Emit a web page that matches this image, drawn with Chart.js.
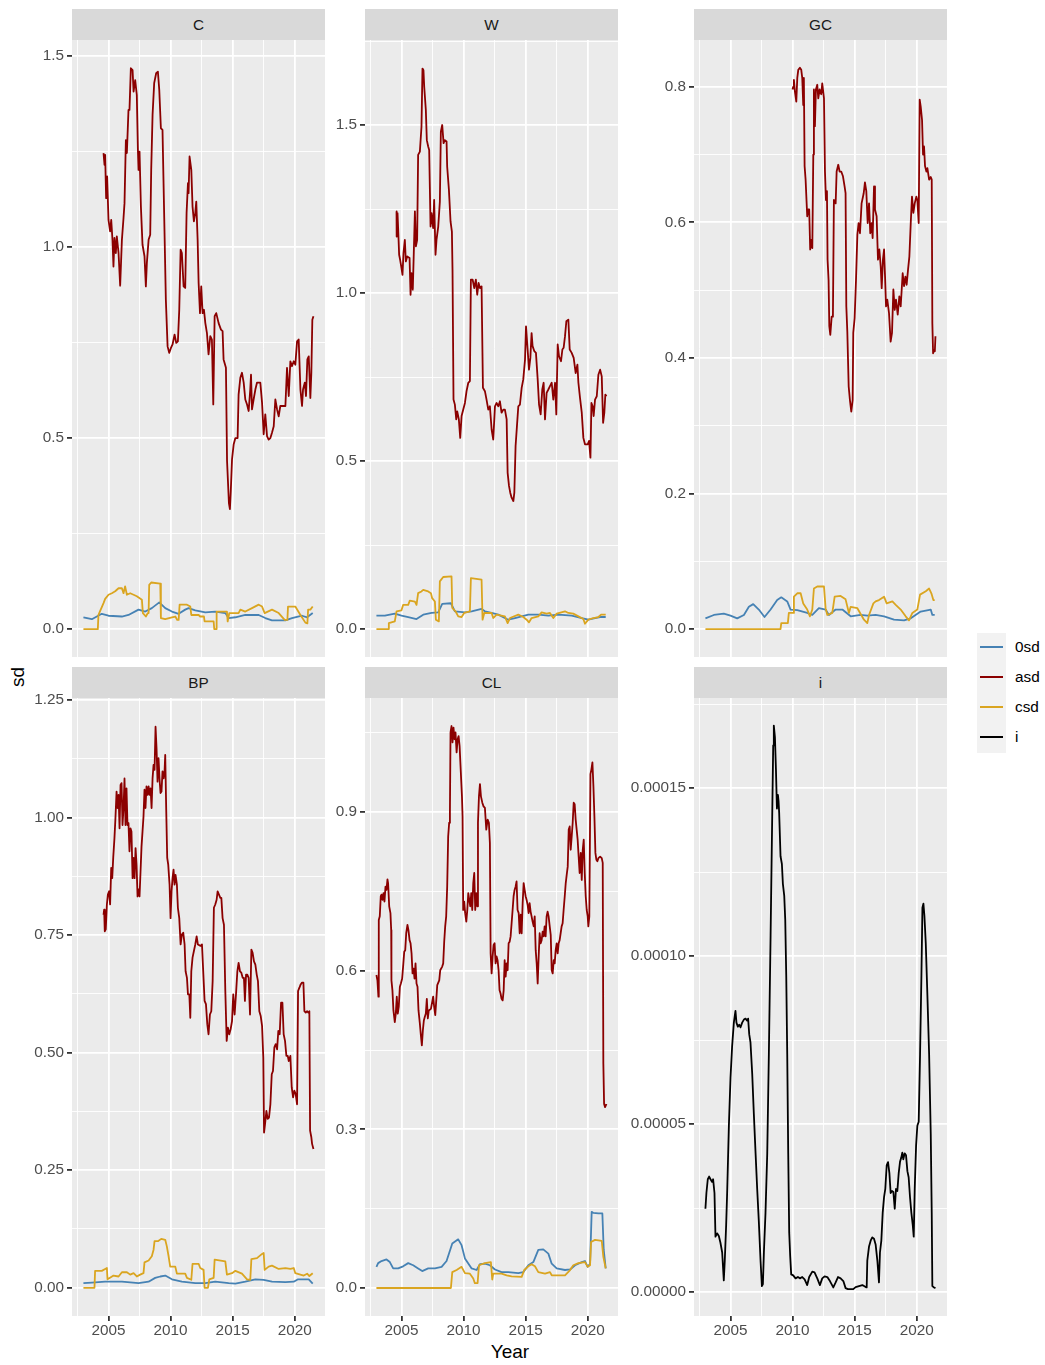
<!DOCTYPE html>
<html><head><meta charset="utf-8">
<script src="https://cdn.jsdelivr.net/npm/chart.js@4"></script>
<style>
body{margin:0;background:#fff;width:1045px;height:1365px;position:relative;overflow:hidden;font-family:"Liberation Sans",Arial,sans-serif;}
.strip{position:absolute;background:#D9D9D9;color:#1A1A1A;font-size:15.3px;text-align:center;line-height:31px;height:31px;width:253px;}
canvas{position:absolute;}
.lab{position:absolute;font-size:15.3px;color:#000;height:20px;line-height:20px;}
.key{position:absolute;left:980px;width:23px;height:1.8px;}
</style></head><body>
<div class="strip" style="left:72px;top:9px">C</div>
<div class="strip" style="left:365px;top:9px">W</div>
<div class="strip" style="left:694px;top:9px">GC</div>
<div class="strip" style="left:72px;top:667px">BP</div>
<div class="strip" style="left:365px;top:667px">CL</div>
<div class="strip" style="left:694px;top:667px">i</div>
<div style="position:absolute;left:0;top:667px;width:36px;height:20px;line-height:20px;text-align:center;transform:rotate(-90deg);transform-origin:18px 10px;font-size:19px;color:#000">sd</div>
<div style="position:absolute;left:460px;top:1341px;width:100px;text-align:center;font-size:19px;color:#000;line-height:22px">Year</div>
<div style="position:absolute;left:977px;top:633px;width:29px;height:120px;background:#F2F2F2"></div>
<div class="key" style="top:646px;background:#4682B4"></div>
<div class="key" style="top:676px;background:#8B0000"></div>
<div class="key" style="top:706px;background:#DAA520"></div>
<div class="key" style="top:736px;background:#000000"></div>
<div class="lab" style="left:1015px;top:637px">0sd</div>
<div class="lab" style="left:1015px;top:667px">asd</div>
<div class="lab" style="left:1015px;top:697px">csd</div>
<div class="lab" style="left:1015px;top:727px">i</div>
<script>
// ---------- tick definitions ----------
const X_MAJOR = [2005, 2010, 2015, 2020];
const X_LABELS = ['2005', '2010', '2015', '2020'];
const X_MINOR = [2002.5, 2007.5, 2012.5, 2017.5];

const C_MAJOR = [0, 0.5, 1.0, 1.5];
const C_LABELS = ['0.0', '0.5', '1.0', '1.5'];
const C_MINOR = [0.25, 0.75, 1.25];

const W_MAJOR = [0, 0.5, 1.0, 1.5];
const W_LABELS = ['0.0', '0.5', '1.0', '1.5'];
const W_MINOR = [0.25, 0.75, 1.25, 1.75];

const GC_MAJOR = [0, 0.2, 0.4, 0.6, 0.8];
const GC_LABELS = ['0.0', '0.2', '0.4', '0.6', '0.8'];
const GC_MINOR = [0.1, 0.3, 0.5, 0.7];

const BP_MAJOR = [0, 0.25, 0.5, 0.75, 1.0, 1.25];
const BP_LABELS = ['0.00', '0.25', '0.50', '0.75', '1.00', '1.25'];
const BP_MINOR = [0.125, 0.375, 0.625, 0.875, 1.125];

const CL_MAJOR = [0, 0.3, 0.6, 0.9];
const CL_LABELS = ['0.0', '0.3', '0.6', '0.9'];
const CL_MINOR = [0.15, 0.45, 0.75, 1.05];

const I_MAJOR = [0, 0.00005, 0.0001, 0.00015];
const I_LABELS = ['0.00000', '0.00005', '0.00010', '0.00015'];
const I_MINOR = [0.000025, 0.000075, 0.000125, 0.000175];

// ---------- series: [year, value] ----------
const C_asd = [[2004.60,1.246],[2004.68,1.215],[2004.73,1.241],[2004.81,1.128],[2004.89,1.185],[2005.00,1.071],[2005.13,1.041],[2005.22,1.071],[2005.32,1.019],[2005.40,0.949],[2005.48,1.024],[2005.59,0.984],[2005.67,1.028],[2005.81,0.984],[2005.94,0.899],[2006.08,1.019],[2006.21,1.076],[2006.29,1.115],[2006.40,1.280],[2006.48,1.246],[2006.61,1.359],[2006.69,1.359],[2006.80,1.468],[2006.94,1.463],[2007.02,1.407],[2007.15,1.437],[2007.28,1.398],[2007.37,1.254],[2007.42,1.202],[2007.50,1.250],[2007.61,1.106],[2007.74,1.006],[2007.90,0.976],[2008.01,0.897],[2008.09,0.958],[2008.23,1.019],[2008.36,1.032],[2008.44,1.202],[2008.55,1.346],[2008.68,1.429],[2008.84,1.455],[2008.98,1.459],[2009.09,1.411],[2009.22,1.311],[2009.35,1.307],[2009.49,1.076],[2009.62,0.862],[2009.76,0.740],[2009.89,0.723],[2010.03,0.736],[2010.16,0.745],[2010.32,0.771],[2010.46,0.749],[2010.59,0.753],[2010.70,0.836],[2010.81,0.993],[2010.91,0.984],[2011.05,0.897],[2011.18,0.893],[2011.29,1.089],[2011.40,1.167],[2011.45,1.141],[2011.53,1.237],[2011.67,1.202],[2011.77,1.106],[2011.88,1.067],[2011.99,1.089],[2012.07,1.119],[2012.18,1.019],[2012.26,0.906],[2012.37,0.827],[2012.47,0.897],[2012.58,0.827],[2012.69,0.836],[2012.80,0.801],[2012.93,0.775],[2013.06,0.719],[2013.20,0.767],[2013.33,0.758],[2013.44,0.588],[2013.55,0.819],[2013.68,0.827],[2013.87,0.801],[2014.06,0.784],[2014.19,0.780],[2014.27,0.706],[2014.46,0.684],[2014.55,0.440],[2014.70,0.330],[2014.78,0.314],[2014.85,0.360],[2014.95,0.444],[2015.08,0.483],[2015.22,0.500],[2015.40,0.500],[2015.48,0.614],[2015.62,0.658],[2015.75,0.671],[2015.89,0.645],[2016.02,0.601],[2016.16,0.588],[2016.29,0.571],[2016.42,0.627],[2016.48,0.666],[2016.56,0.575],[2016.69,0.601],[2016.83,0.627],[2016.96,0.645],[2017.23,0.645],[2017.37,0.592],[2017.50,0.510],[2017.63,0.562],[2017.77,0.505],[2017.90,0.496],[2018.04,0.500],[2018.17,0.514],[2018.31,0.531],[2018.44,0.601],[2018.58,0.575],[2018.71,0.557],[2018.84,0.584],[2018.98,0.584],[2019.25,0.584],[2019.38,0.684],[2019.52,0.610],[2019.65,0.701],[2019.78,0.688],[2019.92,0.701],[2020.05,0.692],[2020.19,0.753],[2020.32,0.758],[2020.46,0.627],[2020.59,0.584],[2020.67,0.627],[2020.81,0.645],[2020.91,0.610],[2021.02,0.706],[2021.13,0.714],[2021.26,0.605],[2021.34,0.671],[2021.42,0.810],[2021.51,0.819]];
const C_0sd = [[2002.98,0.031],[2003.66,0.026],[2004.46,0.040],[2005.00,0.035],[2006.08,0.033],[2006.61,0.037],[2007.42,0.051],[2007.96,0.046],[2008.49,0.055],[2009.09,0.070],[2009.57,0.055],[2010.11,0.046],[2010.65,0.040],[2011.18,0.051],[2011.45,0.055],[2011.99,0.049],[2012.80,0.044],[2013.60,0.046],[2014.41,0.042],[2014.68,0.029],[2015.22,0.031],[2016.02,0.037],[2017.10,0.037],[2017.63,0.029],[2018.17,0.023],[2019.25,0.023],[2019.78,0.029],[2020.59,0.035],[2021.00,0.031],[2021.45,0.042]];
const C_csd = [[2002.98,0],[2004.14,0],[2004.19,0.0375],[2004.60,0.068],[2004.73,0.079],[2005.00,0.090],[2005.27,0.094],[2005.54,0.099],[2005.81,0.107],[2006.08,0.107],[2006.21,0.094],[2006.34,0.112],[2006.48,0.090],[2006.75,0.094],[2007.02,0.090],[2007.28,0.086],[2007.69,0.077],[2007.77,0.042],[2008.01,0.033],[2008.17,0.042],[2008.23,0.042],[2008.28,0.116],[2008.44,0.122],[2009.17,0.119],[2009.22,0.029],[2009.57,0.026],[2010.11,0.031],[2010.38,0.033],[2010.54,0.024],[2010.65,0.024],[2010.73,0.064],[2011.32,0.064],[2011.59,0.059],[2011.67,0.037],[2012.26,0.037],[2012.39,0.033],[2012.69,0.033],[2012.74,0.020],[2013.47,0.020],[2013.52,0.0],[2013.66,0.0],[2013.71,0.046],[2014.54,0.046],[2014.60,0.020],[2014.73,0.042],[2015.48,0.042],[2015.62,0.051],[2016.02,0.046],[2016.56,0.055],[2017.10,0.064],[2017.37,0.059],[2017.58,0.042],[2018.17,0.051],[2018.71,0.042],[2019.19,0.024],[2019.41,0.024],[2019.46,0.059],[2020.05,0.059],[2020.46,0.037],[2020.86,0.017],[2021.02,0.015],[2021.08,0.051],[2021.26,0.051],[2021.45,0.059]];

const W_asd = [[2004.60,1.243],[2004.61,1.168],[2004.68,1.238],[2004.73,1.193],[2004.81,1.114],[2004.89,1.099],[2005.00,1.074],[2005.08,1.054],[2005.16,1.119],[2005.27,1.158],[2005.35,1.094],[2005.46,1.109],[2005.65,1.104],[2005.73,0.995],[2005.81,1.059],[2005.91,1.010],[2005.99,1.119],[2006.08,1.243],[2006.16,1.139],[2006.26,1.158],[2006.34,1.411],[2006.48,1.421],[2006.61,1.495],[2006.69,1.668],[2006.77,1.663],[2006.83,1.614],[2006.96,1.545],[2007.04,1.455],[2007.15,1.436],[2007.23,1.426],[2007.34,1.198],[2007.42,1.238],[2007.55,1.193],[2007.63,1.277],[2007.74,1.114],[2007.82,1.158],[2007.96,1.198],[2008.09,1.272],[2008.17,1.480],[2008.28,1.500],[2008.39,1.446],[2008.49,1.455],[2008.63,1.451],[2008.68,1.376],[2008.82,1.307],[2008.95,1.213],[2009.06,1.183],[2009.11,1.069],[2009.19,0.683],[2009.30,0.668],[2009.41,0.624],[2009.49,0.648],[2009.62,0.624],[2009.73,0.569],[2009.84,0.634],[2009.97,0.653],[2010.11,0.673],[2010.24,0.708],[2010.38,0.733],[2010.51,0.738],[2010.59,1.040],[2010.73,1.040],[2010.86,1.015],[2010.99,1.040],[2011.10,0.995],[2011.21,1.030],[2011.32,1.015],[2011.45,1.020],[2011.56,0.718],[2011.72,0.708],[2011.85,0.683],[2011.99,0.653],[2012.12,0.663],[2012.26,0.594],[2012.39,0.564],[2012.53,0.663],[2012.66,0.673],[2012.80,0.663],[2012.93,0.678],[2013.06,0.644],[2013.20,0.653],[2013.33,0.653],[2013.47,0.624],[2013.55,0.465],[2013.66,0.426],[2013.76,0.406],[2013.87,0.391],[2014.01,0.381],[2014.09,0.406],[2014.19,0.545],[2014.30,0.604],[2014.41,0.663],[2014.54,0.668],[2014.68,0.718],[2014.81,0.743],[2014.95,0.802],[2015.03,0.901],[2015.16,0.832],[2015.27,0.772],[2015.38,0.807],[2015.48,0.881],[2015.56,0.842],[2015.70,0.827],[2015.83,0.822],[2015.97,0.743],[2016.08,0.668],[2016.21,0.639],[2016.34,0.713],[2016.45,0.733],[2016.56,0.624],[2016.69,0.703],[2016.83,0.713],[2016.96,0.723],[2017.10,0.733],[2017.23,0.683],[2017.37,0.733],[2017.47,0.639],[2017.58,0.847],[2017.69,0.812],[2017.85,0.797],[2017.96,0.832],[2018.06,0.837],[2018.17,0.871],[2018.28,0.916],[2018.44,0.921],[2018.55,0.832],[2018.71,0.822],[2018.87,0.807],[2019.03,0.762],[2019.17,0.787],[2019.25,0.733],[2019.38,0.688],[2019.52,0.644],[2019.65,0.569],[2019.78,0.550],[2020.00,0.550],[2020.11,0.560],[2020.22,0.510],[2020.30,0.673],[2020.40,0.663],[2020.48,0.634],[2020.59,0.683],[2020.73,0.693],[2020.86,0.757],[2021.00,0.772],[2021.13,0.752],[2021.24,0.614],[2021.34,0.644],[2021.42,0.698],[2021.51,0.693]];
const W_0sd = [[2002.98,0.040],[2003.66,0.040],[2004.46,0.046],[2005.00,0.040],[2005.54,0.036],[2006.21,0.030],[2006.75,0.043],[2007.42,0.048],[2007.96,0.050],[2008.28,0.075],[2008.98,0.077],[2009.30,0.053],[2010.11,0.050],[2010.65,0.053],[2011.45,0.060],[2011.72,0.053],[2012.26,0.048],[2012.80,0.043],[2013.60,0.028],[2014.14,0.033],[2014.68,0.038],[2015.22,0.043],[2016.02,0.043],[2016.83,0.040],[2017.63,0.043],[2018.71,0.040],[2019.52,0.033],[2020.05,0.028],[2020.59,0.033],[2021.00,0.036],[2021.45,0.036]];
const W_csd = [[2002.98,0],[2003.92,0],[2003.98,0.018],[2004.46,0.023],[2004.60,0.053],[2005.00,0.056],[2005.13,0.072],[2005.54,0.072],[2005.67,0.085],[2006.08,0.082],[2006.21,0.072],[2006.34,0.107],[2006.61,0.112],[2006.75,0.117],[2007.15,0.112],[2007.37,0.107],[2007.47,0.092],[2007.69,0.082],[2007.77,0.028],[2008.01,0.023],[2008.09,0.142],[2008.36,0.155],[2009.03,0.157],[2009.09,0.063],[2009.35,0.053],[2009.57,0.038],[2009.84,0.036],[2010.05,0.048],[2010.51,0.053],[2010.59,0.152],[2011.45,0.147],[2011.53,0.028],[2011.67,0.048],[2012.26,0.048],[2012.39,0.033],[2012.66,0.043],[2013.33,0.038],[2013.55,0.018],[2013.74,0.033],[2014.41,0.043],[2014.81,0.036],[2015.08,0.028],[2015.27,0.020],[2015.48,0.033],[2016.02,0.038],[2016.29,0.050],[2016.69,0.046],[2016.96,0.048],[2017.23,0.033],[2017.50,0.046],[2018.17,0.053],[2018.44,0.048],[2018.84,0.046],[2019.25,0.038],[2019.65,0.030],[2019.78,0.016],[2020.05,0.028],[2020.46,0.033],[2020.86,0.036],[2021.08,0.043],[2021.45,0.043]];

const GC_asd = [[2010.00,0.796],[2010.05,0.800],[2010.11,0.810],[2010.19,0.793],[2010.30,0.778],[2010.38,0.813],[2010.46,0.825],[2010.59,0.828],[2010.70,0.825],[2010.78,0.813],[2010.86,0.773],[2010.91,0.813],[2010.97,0.683],[2011.05,0.663],[2011.18,0.609],[2011.26,0.619],[2011.34,0.619],[2011.42,0.560],[2011.51,0.574],[2011.59,0.562],[2011.67,0.700],[2011.72,0.796],[2011.80,0.742],[2011.88,0.796],[2011.99,0.803],[2012.07,0.783],[2012.18,0.796],[2012.31,0.789],[2012.39,0.805],[2012.53,0.783],[2012.61,0.675],[2012.69,0.633],[2012.77,0.646],[2012.82,0.545],[2012.90,0.515],[2012.96,0.447],[2013.04,0.434],[2013.15,0.461],[2013.25,0.461],[2013.33,0.633],[2013.47,0.628],[2013.55,0.675],[2013.68,0.685],[2013.79,0.675],[2013.92,0.675],[2014.06,0.668],[2014.19,0.653],[2014.27,0.643],[2014.33,0.476],[2014.41,0.439],[2014.52,0.358],[2014.62,0.338],[2014.73,0.321],[2014.84,0.338],[2014.89,0.437],[2015.00,0.459],[2015.11,0.515],[2015.22,0.582],[2015.32,0.599],[2015.43,0.584],[2015.56,0.628],[2015.73,0.643],[2015.83,0.659],[2015.94,0.646],[2016.05,0.599],[2016.16,0.628],[2016.26,0.584],[2016.37,0.599],[2016.45,0.577],[2016.56,0.653],[2016.64,0.619],[2016.77,0.609],[2016.88,0.545],[2016.99,0.560],[2017.10,0.535],[2017.18,0.503],[2017.28,0.545],[2017.37,0.560],[2017.45,0.520],[2017.53,0.476],[2017.63,0.486],[2017.77,0.466],[2017.90,0.424],[2018.01,0.437],[2018.12,0.501],[2018.23,0.471],[2018.33,0.486],[2018.47,0.464],[2018.60,0.491],[2018.71,0.476],[2018.87,0.525],[2018.98,0.506],[2019.09,0.520],[2019.19,0.508],[2019.30,0.530],[2019.41,0.550],[2019.52,0.599],[2019.62,0.638],[2019.73,0.614],[2019.84,0.628],[2019.97,0.638],[2020.05,0.633],[2020.16,0.599],[2020.24,0.781],[2020.32,0.771],[2020.43,0.751],[2020.51,0.700],[2020.59,0.712],[2020.67,0.683],[2020.78,0.675],[2020.86,0.680],[2021.00,0.663],[2021.13,0.667],[2021.21,0.663],[2021.26,0.451],[2021.32,0.407],[2021.40,0.412],[2021.46,0.410],[2021.51,0.432]];
const GC_0sd = [[2002.98,0.016],[2003.66,0.021],[2004.46,0.023],[2005.00,0.020],[2005.54,0.016],[2006.08,0.021],[2006.48,0.033],[2006.83,0.037],[2007.28,0.029],[2007.74,0.018],[2008.23,0.029],[2008.76,0.043],[2009.09,0.047],[2009.57,0.041],[2009.84,0.029],[2010.38,0.028],[2011.18,0.024],[2011.59,0.021],[2012.12,0.031],[2012.66,0.029],[2012.93,0.021],[2013.47,0.029],[2014.01,0.029],[2014.68,0.019],[2015.48,0.021],[2016.02,0.020],[2016.69,0.021],[2017.37,0.019],[2018.17,0.014],[2018.98,0.013],[2019.52,0.016],[2020.32,0.026],[2021.13,0.029],[2021.26,0.021],[2021.45,0.021]];
const GC_csd = [[2002.98,0],[2009.03,0],[2009.09,0.009],[2009.62,0.009],[2009.70,0.024],[2010.05,0.024],[2010.11,0.048],[2010.38,0.053],[2010.65,0.053],[2010.86,0.038],[2011.18,0.029],[2011.40,0.019],[2011.59,0.029],[2011.72,0.060],[2011.99,0.063],[2012.53,0.063],[2012.66,0.031],[2012.80,0.021],[2013.20,0.024],[2013.39,0.048],[2013.87,0.049],[2014.27,0.044],[2014.54,0.024],[2014.68,0.033],[2015.22,0.031],[2015.75,0.014],[2016.02,0.009],[2016.16,0.021],[2016.51,0.038],[2016.69,0.041],[2016.96,0.043],[2017.37,0.048],[2017.58,0.038],[2018.04,0.041],[2018.31,0.036],[2018.71,0.029],[2019.11,0.019],[2019.38,0.013],[2019.65,0.024],[2020.05,0.029],[2020.27,0.051],[2020.73,0.056],[2021.00,0.060],[2021.18,0.053],[2021.34,0.043],[2021.45,0.043]];

const BP_asd = [[2004.60,0.793],[2004.65,0.804],[2004.70,0.758],[2004.78,0.762],[2004.87,0.815],[2004.95,0.836],[2005.05,0.843],[2005.13,0.815],[2005.22,0.893],[2005.30,0.871],[2005.38,0.914],[2005.48,0.956],[2005.56,0.999],[2005.65,1.055],[2005.73,1.020],[2005.81,1.048],[2005.89,0.977],[2005.97,1.069],[2006.05,1.073],[2006.13,0.984],[2006.21,1.020],[2006.29,1.083],[2006.37,0.984],[2006.45,1.062],[2006.53,0.984],[2006.61,0.988],[2006.69,0.928],[2006.77,0.977],[2006.85,0.970],[2006.94,0.871],[2007.02,0.914],[2007.10,0.871],[2007.18,0.935],[2007.26,0.900],[2007.34,0.832],[2007.42,0.847],[2007.50,0.832],[2007.58,0.885],[2007.66,0.938],[2007.74,0.970],[2007.82,1.002],[2007.90,1.059],[2007.98,1.020],[2008.06,1.066],[2008.15,1.048],[2008.23,1.066],[2008.31,1.048],[2008.39,1.062],[2008.47,1.020],[2008.55,1.083],[2008.63,1.112],[2008.71,1.101],[2008.79,1.193],[2008.87,1.147],[2008.95,1.076],[2009.03,1.126],[2009.11,1.083],[2009.19,1.052],[2009.27,1.055],[2009.35,1.098],[2009.44,1.083],[2009.52,1.101],[2009.57,1.133],[2009.65,1.016],[2009.73,0.914],[2009.81,0.900],[2009.92,0.857],[2010.00,0.786],[2010.08,0.843],[2010.16,0.871],[2010.24,0.889],[2010.32,0.857],[2010.40,0.878],[2010.51,0.857],[2010.59,0.808],[2010.70,0.786],[2010.81,0.730],[2010.91,0.751],[2011.02,0.755],[2011.13,0.730],[2011.21,0.673],[2011.32,0.659],[2011.40,0.624],[2011.51,0.624],[2011.59,0.574],[2011.67,0.673],[2011.77,0.702],[2011.88,0.716],[2011.99,0.730],[2012.10,0.747],[2012.20,0.730],[2012.42,0.727],[2012.53,0.730],[2012.63,0.673],[2012.74,0.610],[2012.85,0.603],[2012.96,0.560],[2013.06,0.539],[2013.17,0.581],[2013.28,0.588],[2013.39,0.652],[2013.49,0.808],[2013.60,0.815],[2013.71,0.825],[2013.79,0.843],[2013.90,0.836],[2014.01,0.829],[2014.09,0.829],[2014.19,0.786],[2014.30,0.772],[2014.41,0.631],[2014.52,0.525],[2014.62,0.553],[2014.73,0.539],[2014.84,0.550],[2014.95,0.567],[2015.05,0.624],[2015.16,0.581],[2015.27,0.624],[2015.38,0.673],[2015.48,0.691],[2015.59,0.673],[2015.70,0.670],[2015.81,0.659],[2015.91,0.659],[2015.99,0.610],[2016.08,0.666],[2016.18,0.666],[2016.29,0.659],[2016.40,0.581],[2016.51,0.719],[2016.61,0.712],[2016.72,0.694],[2016.83,0.687],[2016.94,0.666],[2017.04,0.652],[2017.15,0.588],[2017.26,0.578],[2017.37,0.557],[2017.47,0.489],[2017.53,0.330],[2017.61,0.348],[2017.72,0.376],[2017.82,0.359],[2017.93,0.362],[2018.04,0.390],[2018.15,0.454],[2018.25,0.461],[2018.36,0.511],[2018.47,0.518],[2018.58,0.507],[2018.68,0.546],[2018.79,0.539],[2018.90,0.606],[2019.01,0.606],[2019.11,0.539],[2019.22,0.525],[2019.33,0.493],[2019.44,0.493],[2019.52,0.482],[2019.65,0.493],[2019.76,0.426],[2019.87,0.405],[2019.97,0.419],[2020.08,0.412],[2020.19,0.390],[2020.27,0.631],[2020.38,0.638],[2020.48,0.645],[2020.59,0.649],[2020.70,0.649],[2020.78,0.588],[2020.89,0.585],[2021.00,0.588],[2021.10,0.585],[2021.18,0.588],[2021.24,0.334],[2021.34,0.320],[2021.40,0.306],[2021.51,0.295]];
const BP_0sd = [[2002.98,0.010],[2003.66,0.011],[2004.73,0.013],[2006.08,0.013],[2007.42,0.010],[2008.23,0.013],[2008.76,0.021],[2009.17,0.024],[2009.57,0.026],[2010.11,0.018],[2010.91,0.013],[2011.99,0.010],[2012.80,0.010],[2013.60,0.013],[2014.68,0.010],[2015.22,0.009],[2016.02,0.013],[2016.83,0.018],[2017.50,0.017],[2018.17,0.013],[2019.25,0.012],[2019.92,0.013],[2020.27,0.018],[2021.13,0.018],[2021.45,0.009]];
const BP_csd = [[2002.98,0],[2003.87,0],[2003.92,0.036],[2004.46,0.036],[2004.73,0.040],[2004.87,0.042],[2004.92,0.018],[2005.22,0.023],[2005.40,0.026],[2005.81,0.024],[2006.08,0.033],[2006.48,0.033],[2006.75,0.028],[2007.02,0.031],[2007.28,0.024],[2007.55,0.028],[2007.82,0.031],[2007.90,0.054],[2008.23,0.058],[2008.49,0.067],[2008.63,0.081],[2008.71,0.099],[2008.98,0.099],[2009.25,0.104],[2009.57,0.102],[2009.70,0.088],[2009.84,0.067],[2009.97,0.045],[2010.38,0.045],[2010.51,0.030],[2011.18,0.030],[2011.32,0.021],[2011.67,0.017],[2011.77,0.051],[2012.26,0.051],[2012.39,0.042],[2012.66,0.038],[2012.74,0.0],[2013.01,0.0],[2013.12,0.018],[2013.47,0.021],[2013.55,0.060],[2014.41,0.056],[2014.54,0.028],[2014.95,0.031],[2015.22,0.036],[2015.75,0.030],[2016.16,0.018],[2016.42,0.017],[2016.51,0.061],[2016.96,0.063],[2017.37,0.072],[2017.50,0.074],[2017.58,0.038],[2017.90,0.045],[2018.17,0.047],[2018.71,0.040],[2019.25,0.042],[2019.65,0.040],[2019.92,0.042],[2020.05,0.031],[2020.73,0.026],[2021.00,0.030],[2021.18,0.025],[2021.45,0.031]];

const CL_asd = [[2002.98,0.592],[2003.06,0.582],[2003.14,0.551],[2003.17,0.696],[2003.25,0.703],[2003.33,0.741],[2003.39,0.744],[2003.47,0.734],[2003.55,0.747],[2003.63,0.731],[2003.71,0.759],[2003.79,0.753],[2003.87,0.773],[2003.92,0.766],[2004.01,0.722],[2004.11,0.709],[2004.17,0.677],[2004.19,0.582],[2004.27,0.563],[2004.35,0.525],[2004.46,0.503],[2004.54,0.519],[2004.62,0.551],[2004.70,0.519],[2004.78,0.532],[2004.87,0.570],[2004.95,0.576],[2005.05,0.585],[2005.13,0.608],[2005.22,0.636],[2005.30,0.639],[2005.38,0.671],[2005.48,0.687],[2005.56,0.677],[2005.65,0.658],[2005.73,0.652],[2005.81,0.633],[2005.89,0.595],[2005.97,0.604],[2006.05,0.585],[2006.13,0.614],[2006.21,0.576],[2006.29,0.570],[2006.37,0.525],[2006.48,0.500],[2006.56,0.478],[2006.64,0.459],[2006.72,0.487],[2006.80,0.506],[2006.88,0.513],[2006.96,0.519],[2007.04,0.547],[2007.12,0.510],[2007.20,0.525],[2007.37,0.528],[2007.55,0.551],[2007.63,0.532],[2007.72,0.516],[2007.80,0.544],[2007.88,0.573],[2008.04,0.582],[2008.12,0.601],[2008.28,0.608],[2008.36,0.614],[2008.44,0.655],[2008.52,0.684],[2008.60,0.703],[2008.68,0.759],[2008.76,0.854],[2008.84,0.880],[2008.90,0.899],[2008.95,1.051],[2009.03,1.063],[2009.11,1.032],[2009.19,1.060],[2009.27,1.038],[2009.35,1.051],[2009.44,1.013],[2009.52,1.038],[2009.60,1.044],[2009.68,1.025],[2009.78,0.975],[2009.87,0.930],[2009.92,0.892],[2009.97,0.715],[2010.05,0.731],[2010.13,0.709],[2010.22,0.693],[2010.30,0.715],[2010.38,0.747],[2010.46,0.734],[2010.54,0.722],[2010.62,0.747],[2010.70,0.715],[2010.78,0.766],[2010.86,0.785],[2010.94,0.715],[2011.02,0.747],[2011.10,0.722],[2011.16,0.880],[2011.24,0.930],[2011.32,0.953],[2011.40,0.930],[2011.51,0.918],[2011.61,0.911],[2011.72,0.908],[2011.83,0.867],[2011.94,0.886],[2012.04,0.880],[2012.12,0.842],[2012.18,0.633],[2012.26,0.595],[2012.34,0.627],[2012.42,0.649],[2012.50,0.652],[2012.58,0.614],[2012.66,0.627],[2012.74,0.620],[2012.82,0.601],[2012.90,0.563],[2012.98,0.557],[2013.06,0.547],[2013.15,0.544],[2013.23,0.563],[2013.31,0.620],[2013.39,0.589],[2013.47,0.614],[2013.55,0.601],[2013.63,0.652],[2013.71,0.655],[2013.79,0.665],[2013.87,0.690],[2013.95,0.715],[2014.03,0.741],[2014.11,0.753],[2014.19,0.759],[2014.27,0.769],[2014.35,0.715],[2014.44,0.709],[2014.52,0.671],[2014.60,0.706],[2014.68,0.671],[2014.76,0.728],[2014.84,0.766],[2014.92,0.753],[2015.00,0.741],[2015.08,0.734],[2015.16,0.725],[2015.24,0.709],[2015.32,0.728],[2015.40,0.712],[2015.48,0.703],[2015.56,0.693],[2015.65,0.684],[2015.73,0.703],[2015.81,0.639],[2015.89,0.614],[2015.97,0.576],[2016.05,0.627],[2016.13,0.671],[2016.21,0.652],[2016.29,0.658],[2016.37,0.674],[2016.45,0.665],[2016.53,0.684],[2016.61,0.665],[2016.69,0.703],[2016.77,0.712],[2016.85,0.703],[2016.94,0.684],[2017.02,0.668],[2017.10,0.601],[2017.18,0.595],[2017.26,0.620],[2017.34,0.614],[2017.42,0.639],[2017.50,0.652],[2017.58,0.633],[2017.66,0.652],[2017.74,0.658],[2017.82,0.671],[2017.90,0.684],[2017.98,0.690],[2018.06,0.715],[2018.15,0.741],[2018.23,0.766],[2018.31,0.782],[2018.39,0.797],[2018.47,0.867],[2018.55,0.873],[2018.63,0.829],[2018.71,0.854],[2018.79,0.880],[2018.87,0.918],[2018.95,0.915],[2019.03,0.886],[2019.11,0.867],[2019.19,0.848],[2019.27,0.816],[2019.35,0.785],[2019.44,0.823],[2019.52,0.772],[2019.60,0.829],[2019.68,0.848],[2019.76,0.785],[2019.84,0.741],[2019.92,0.715],[2020.00,0.703],[2020.05,0.684],[2020.13,0.703],[2020.22,0.972],[2020.30,0.981],[2020.38,0.994],[2020.46,0.949],[2020.54,0.892],[2020.62,0.823],[2020.70,0.810],[2020.78,0.807],[2020.86,0.813],[2021.00,0.816],[2021.13,0.813],[2021.21,0.804],[2021.26,0.424],[2021.32,0.348],[2021.40,0.342],[2021.51,0.348]];
const CL_0sd = [[2002.98,0.040],[2003.12,0.047],[2003.39,0.051],[2003.79,0.054],[2004.06,0.049],[2004.33,0.037],[2004.73,0.037],[2005.13,0.041],[2005.54,0.047],[2005.94,0.043],[2006.34,0.037],[2006.67,0.032],[2007.15,0.037],[2007.69,0.037],[2008.23,0.040],[2008.63,0.051],[2009.09,0.084],[2009.57,0.092],[2009.84,0.081],[2010.11,0.056],[2010.65,0.037],[2011.05,0.034],[2011.32,0.045],[2011.72,0.046],[2012.12,0.043],[2012.53,0.035],[2013.06,0.030],[2013.60,0.030],[2014.41,0.028],[2014.81,0.030],[2015.22,0.043],[2015.62,0.049],[2016.02,0.072],[2016.42,0.073],[2016.83,0.065],[2017.10,0.046],[2017.50,0.037],[2018.17,0.034],[2018.58,0.035],[2018.98,0.043],[2019.52,0.049],[2019.78,0.051],[2020.00,0.040],[2020.19,0.046],[2020.32,0.144],[2020.46,0.142],[2020.86,0.141],[2021.18,0.141],[2021.29,0.072],[2021.45,0.037]];
const CL_csd = [[2002.98,0],[2008.98,0],[2009.09,0.030],[2009.44,0.034],[2009.84,0.040],[2010.11,0.028],[2010.51,0.027],[2010.78,0.018],[2010.91,0.009],[2011.13,0.009],[2011.24,0.043],[2011.72,0.047],[2012.20,0.049],[2012.31,0.016],[2012.39,0.027],[2013.06,0.027],[2013.47,0.024],[2013.87,0.022],[2014.68,0.021],[2014.89,0.034],[2015.22,0.041],[2015.48,0.045],[2015.75,0.041],[2016.02,0.030],[2016.56,0.027],[2016.96,0.030],[2017.10,0.024],[2018.17,0.024],[2018.58,0.034],[2018.84,0.043],[2019.25,0.047],[2019.78,0.049],[2020.00,0.040],[2020.19,0.043],[2020.27,0.087],[2020.59,0.091],[2021.13,0.089],[2021.26,0.059],[2021.45,0.037]];

const I_i = [[2002.98,2.48e-5],[2003.06,2.95e-5],[2003.17,3.36e-5],[2003.28,3.44e-5],[2003.39,3.36e-5],[2003.52,3.28e-5],[2003.60,3.36e-5],[2003.71,2.95e-5],[2003.79,1.65e-5],[2003.92,1.75e-5],[2004.06,1.67e-5],[2004.19,1.47e-5],[2004.33,1.18e-5],[2004.46,0.35e-5],[2004.54,0.94e-5],[2004.65,2.00e-5],[2004.73,2.95e-5],[2004.87,4.95e-5],[2005.00,6.37e-5],[2005.13,7.31e-5],[2005.27,8.02e-5],[2005.40,8.37e-5],[2005.48,8.02e-5],[2005.59,7.90e-5],[2005.70,7.96e-5],[2005.81,7.88e-5],[2005.94,8.02e-5],[2006.08,8.11e-5],[2006.21,8.14e-5],[2006.34,8.08e-5],[2006.42,8.14e-5],[2006.51,7.67e-5],[2006.61,7.43e-5],[2006.75,6.49e-5],[2006.88,5.31e-5],[2007.02,4.13e-5],[2007.15,3.07e-5],[2007.28,2.12e-5],[2007.42,0.94e-5],[2007.53,0.18e-5],[2007.61,0.24e-5],[2007.69,1.18e-5],[2007.82,2.36e-5],[2007.96,4.13e-5],[2008.09,7.08e-5],[2008.23,10.61e-5],[2008.36,14.15e-5],[2008.44,16.27e-5],[2008.49,16.86e-5],[2008.58,16.51e-5],[2008.66,15.57e-5],[2008.74,14.39e-5],[2008.82,14.80e-5],[2008.87,14.62e-5],[2008.92,14.27e-5],[2009.03,12.97e-5],[2009.14,12.74e-5],[2009.22,12.15e-5],[2009.33,11.79e-5],[2009.41,11.08e-5],[2009.49,9.43e-5],[2009.57,7.08e-5],[2009.65,4.13e-5],[2009.73,1.77e-5],[2009.81,1.06e-5],[2009.89,0.53e-5],[2010.05,0.50e-5],[2010.24,0.41e-5],[2010.43,0.45e-5],[2010.59,0.41e-5],[2010.78,0.45e-5],[2010.97,0.38e-5],[2011.18,0.21e-5],[2011.34,0.45e-5],[2011.59,0.61e-5],[2011.77,0.59e-5],[2011.99,0.41e-5],[2012.20,0.21e-5],[2012.39,0.41e-5],[2012.58,0.47e-5],[2012.80,0.45e-5],[2013.01,0.33e-5],[2013.28,0.14e-5],[2013.47,0.29e-5],[2013.66,0.45e-5],[2013.87,0.41e-5],[2014.09,0.33e-5],[2014.27,0.12e-5],[2014.46,0.09e-5],[2014.68,0.09e-5],[2014.89,0.09e-5],[2015.08,0.15e-5],[2015.35,0.18e-5],[2015.62,0.21e-5],[2015.89,0.15e-5],[2015.97,0.14e-5],[2016.02,0.94e-5],[2016.16,1.36e-5],[2016.29,1.53e-5],[2016.42,1.63e-5],[2016.56,1.59e-5],[2016.69,1.42e-5],[2016.83,0.94e-5],[2016.96,0.29e-5],[2017.04,1.18e-5],[2017.15,1.53e-5],[2017.26,2.36e-5],[2017.37,2.83e-5],[2017.47,3.07e-5],[2017.58,3.77e-5],[2017.69,3.87e-5],[2017.80,3.54e-5],[2017.90,2.95e-5],[2018.01,3.01e-5],[2018.12,2.98e-5],[2018.23,2.48e-5],[2018.33,3.07e-5],[2018.44,3.01e-5],[2018.55,3.54e-5],[2018.66,3.89e-5],[2018.76,4.01e-5],[2018.84,4.15e-5],[2018.92,3.95e-5],[2019.03,4.13e-5],[2019.14,4.07e-5],[2019.25,3.60e-5],[2019.35,3.42e-5],[2019.46,2.83e-5],[2019.57,2.36e-5],[2019.68,2.00e-5],[2019.76,1.65e-5],[2019.84,3.07e-5],[2019.95,4.36e-5],[2020.05,4.95e-5],[2020.16,5.07e-5],[2020.27,7.08e-5],[2020.38,9.43e-5],[2020.46,11.44e-5],[2020.54,11.56e-5],[2020.62,11.20e-5],[2020.73,10.38e-5],[2020.86,8.84e-5],[2021.00,7.08e-5],[2021.13,4.72e-5],[2021.21,2.36e-5],[2021.26,0.18e-5],[2021.40,0.14e-5],[2021.51,0.12e-5]];

// ---------- drawing ----------
const COL = {'0sd':'#4682B4', asd:'#8B0000', csd:'#DAA520', i:'#000000'};
Chart.defaults.font.family = "'Liberation Sans', Arial, sans-serif";
const TICK_FONT = 15.3;

const bgPlugin = {
  id: 'panelBg',
  beforeDraw(chart) {
    const a = chart.chartArea, ctx = chart.ctx;
    ctx.save(); ctx.fillStyle = '#EBEBEB';
    ctx.fillRect(a.left, a.top, a.right - a.left, a.bottom - a.top);
    ctx.restore();
  }
};

const PANELS = [
  {left:72,  top:40,  h:617, row:1, ymin:-0.073, ymax:1.542, major:C_MAJOR, labels:C_LABELS, minor:C_MINOR, series:[['csd',C_csd],['asd',C_asd],['0sd',C_0sd]]},
  {left:365, top:40,  h:617, row:1, ymin:-0.083, ymax:1.753, major:W_MAJOR, labels:W_LABELS, minor:W_MINOR, series:[['csd',W_csd],['asd',W_asd],['0sd',W_0sd]]},
  {left:694, top:40,  h:617, row:1, ymin:-0.041, ymax:0.869, major:GC_MAJOR, labels:GC_LABELS, minor:GC_MINOR, series:[['csd',GC_csd],['asd',GC_asd],['0sd',GC_0sd]]},
  {left:72,  top:698, h:618, row:2, ymin:-0.060, ymax:1.254, major:BP_MAJOR, labels:BP_LABELS, minor:BP_MINOR, series:[['csd',BP_csd],['asd',BP_asd],['0sd',BP_0sd]]},
  {left:365, top:698, h:618, row:2, ymin:-0.053, ymax:1.116, major:CL_MAJOR, labels:CL_LABELS, minor:CL_MINOR, series:[['csd',CL_csd],['asd',CL_asd],['0sd',CL_0sd]]},
  {left:694, top:698, h:618, row:2, ymin:-0.0000071, ymax:0.0001768, major:I_MAJOR, labels:I_LABELS, minor:I_MINOR, series:[['i',I_i]]}
];

function tickList(major, minor) {
  return major.concat(minor).sort((a, b) => a - b).map(v => ({value: v}));
}

PANELS.forEach(p => {
  const bottom = p.row === 2;
  const padT = 20, padR = 20, padB = bottom ? 0 : 20, axW = 72, axH = bottom ? 40 : 0;
  const W = axW + 253 + padR, H = padT + p.h + axH + padB;
  const cv = document.createElement('canvas');
  cv.width = W; cv.height = H;
  cv.style.left = (p.left - axW) + 'px';
  cv.style.top = (p.top - padT) + 'px';
  cv.style.width = W + 'px'; cv.style.height = H + 'px';
  document.body.appendChild(cv);

  const datasets = p.series.map(([name, arr]) => ({
    label: name,
    data: arr.map(([x, y]) => ({x, y})),
    borderColor: COL[name],
    borderWidth: 1.8,
    pointRadius: 0,
    tension: 0,
    fill: false,
    borderJoinStyle: 'round'
  }));

  new Chart(cv, {
    type: 'line',
    data: {datasets},
    plugins: [bgPlugin],
    options: {
      responsive: false,
      animation: false,
      events: [],
      parsing: false,
      layout: {autoPadding: false, padding: {top: padT, right: padR, bottom: padB, left: 0}},
      plugins: {legend: {display: false}, tooltip: {enabled: false}},
      scales: {
        x: {
          type: 'linear',
          min: 2002.06, max: 2022.44,
          afterBuildTicks: s => { s.ticks = tickList(X_MAJOR, X_MINOR); },
          afterFit: s => { s.height = axH; },
          border: {display: false},
          grid: {
            color: '#FFFFFF',
            lineWidth: c => (c.tick && X_MAJOR.includes(c.tick.value)) ? 1.8 : 0.9,
            drawTicks: bottom,
            tickLength: 5,
            tickWidth: 1.8,
            tickColor: c => (c.tick && X_MAJOR.includes(c.tick.value)) ? '#333333' : 'rgba(0,0,0,0)'
          },
          ticks: {
            display: bottom,
            autoSkip: false,
            maxRotation: 0,
            padding: 1,
            color: '#4D4D4D',
            font: {size: TICK_FONT},
            callback: v => { const k = X_MAJOR.indexOf(v); return k >= 0 ? X_LABELS[k] : ''; }
          }
        },
        y: {
          type: 'linear',
          min: p.ymin, max: p.ymax,
          afterBuildTicks: s => { s.ticks = tickList(p.major, p.minor); },
          afterFit: s => { s.width = axW; },
          border: {display: false},
          grid: {
            color: '#FFFFFF',
            lineWidth: c => (c.tick && p.major.includes(c.tick.value)) ? 1.8 : 0.9,
            drawTicks: true,
            tickLength: 5,
            tickWidth: 1.8,
            tickColor: c => (c.tick && p.major.includes(c.tick.value)) ? '#333333' : 'rgba(0,0,0,0)'
          },
          ticks: {
            autoSkip: false,
            padding: 3,
            color: '#4D4D4D',
            font: {size: TICK_FONT},
            callback: v => { const k = p.major.indexOf(v); return k >= 0 ? p.labels[k] : ''; }
          }
        }
      }
    }
  });
});
</script>
</body></html>
